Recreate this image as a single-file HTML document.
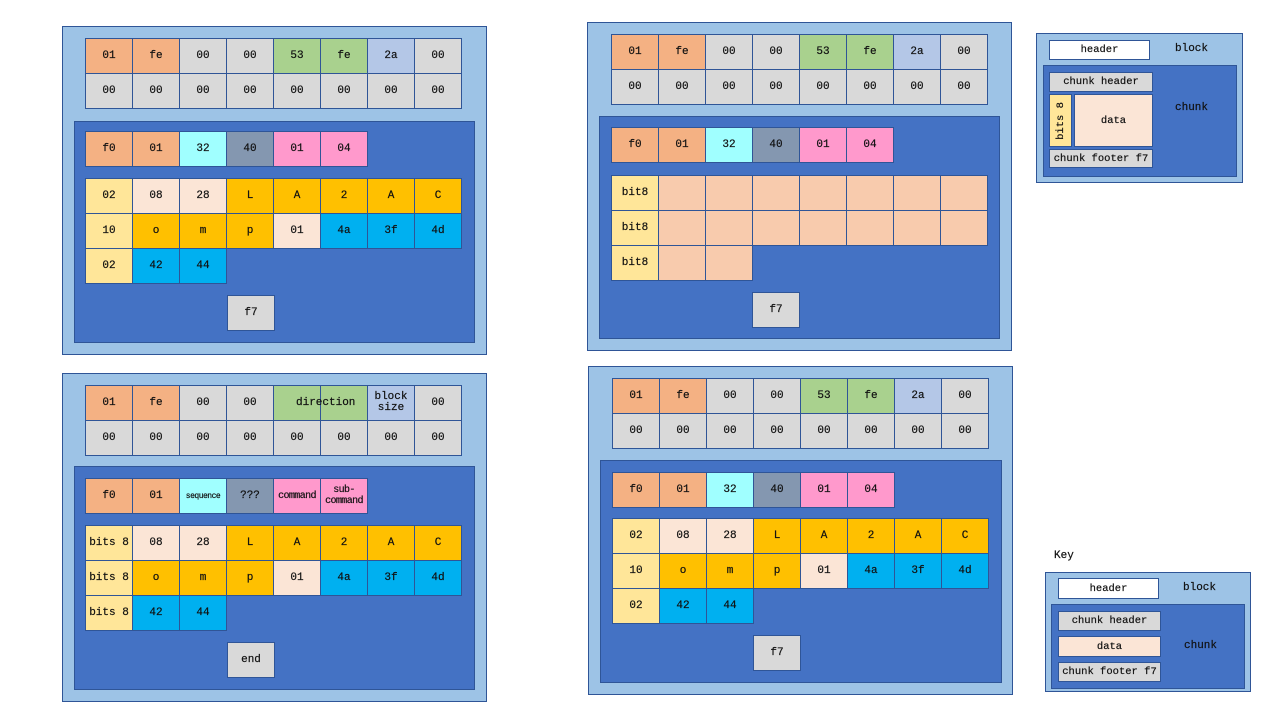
<!DOCTYPE html>
<html><head><meta charset="utf-8"><style>
body{margin:0;width:1280px;height:720px;background:#fff;position:relative;overflow:hidden;font-family:"Liberation Mono","DejaVu Sans Mono",monospace;font-size:11px;color:#111;-webkit-text-stroke:0.2px #111}
.a{position:absolute;box-sizing:border-box}
.o{background:#9dc3e6;border:1px solid #2f5597}
.i{background:#4472c4;border:1px solid #2f5597}
.r{position:absolute;display:flex}
.r div{width:48px;height:36px;box-sizing:border-box;border:1px solid #2f5597;margin-left:-1px;display:flex;align-items:center;justify-content:center;text-align:center;line-height:11px}
.r div:first-child{margin-left:0}
.O{background:#f4b183}.G{background:#d9d9d9}.N{background:#a9d18e}.L{background:#b4c7e7}
.C{background:#a0ffff}.S{background:#8497b0}.P{background:#ff99cc}.Y{background:#ffe699}
.E{background:#fbe5d6}.Q{background:#ffc000}.B{background:#00b0f0}.K{background:#f8cbad}
.k{position:absolute;box-sizing:border-box;border:1px solid #2f5597;display:flex;align-items:center;justify-content:center;font-size:10.5px;white-space:nowrap}
.t{position:absolute}
</style></head><body>

<!-- Diagram 1 -->
<div class="a o" style="left:62px;top:26px;width:425px;height:329px"></div>
<div class="r" style="left:85px;top:38px"><div class="O">01</div><div class="O">fe</div><div class="G">00</div><div class="G">00</div><div class="N">53</div><div class="N">fe</div><div class="L">2a</div><div class="G">00</div></div>
<div class="r" style="left:85px;top:73px"><div class="G">00</div><div class="G">00</div><div class="G">00</div><div class="G">00</div><div class="G">00</div><div class="G">00</div><div class="G">00</div><div class="G">00</div></div>
<div class="a i" style="left:74px;top:121px;width:401px;height:222px"></div>
<div class="r" style="left:85px;top:131px"><div class="O">f0</div><div class="O">01</div><div class="C">32</div><div class="S">40</div><div class="P">01</div><div class="P">04</div></div>
<div class="r" style="left:85px;top:178px"><div class="Y">02</div><div class="E">08</div><div class="E">28</div><div class="Q">L</div><div class="Q">A</div><div class="Q">2</div><div class="Q">A</div><div class="Q">C</div></div>
<div class="r" style="left:85px;top:213px"><div class="Y">10</div><div class="Q">o</div><div class="Q">m</div><div class="Q">p</div><div class="E">01</div><div class="B">4a</div><div class="B">3f</div><div class="B">4d</div></div>
<div class="r" style="left:85px;top:248px"><div class="Y">02</div><div class="B">42</div><div class="B">44</div></div>
<div class="r" style="left:227px;top:295px"><div class="G">f7</div></div>

<!-- Diagram 2 -->
<div class="a o" style="left:587px;top:22px;width:425px;height:329px"></div>
<div class="r" style="left:611px;top:34px"><div class="O">01</div><div class="O">fe</div><div class="G">00</div><div class="G">00</div><div class="N">53</div><div class="N">fe</div><div class="L">2a</div><div class="G">00</div></div>
<div class="r" style="left:611px;top:69px"><div class="G">00</div><div class="G">00</div><div class="G">00</div><div class="G">00</div><div class="G">00</div><div class="G">00</div><div class="G">00</div><div class="G">00</div></div>
<div class="a i" style="left:599px;top:116px;width:401px;height:223px"></div>
<div class="r" style="left:611px;top:127px"><div class="O">f0</div><div class="O">01</div><div class="C">32</div><div class="S">40</div><div class="P">01</div><div class="P">04</div></div>
<div class="r" style="left:611px;top:175px"><div class="Y">bit8</div><div class="K"></div><div class="K"></div><div class="K"></div><div class="K"></div><div class="K"></div><div class="K"></div><div class="K"></div></div>
<div class="r" style="left:611px;top:210px"><div class="Y">bit8</div><div class="K"></div><div class="K"></div><div class="K"></div><div class="K"></div><div class="K"></div><div class="K"></div><div class="K"></div></div>
<div class="r" style="left:611px;top:245px"><div class="Y">bit8</div><div class="K"></div><div class="K"></div></div>
<div class="r" style="left:752px;top:292px"><div class="G">f7</div></div>

<!-- Diagram 3 -->
<div class="a o" style="left:62px;top:373px;width:425px;height:329px"></div>
<div class="r" style="left:85px;top:385px"><div class="O">01</div><div class="O">fe</div><div class="G">00</div><div class="G">00</div><div class="N"></div><div class="N"></div><div class="L">block<br>size</div><div class="G">00</div></div>
<div class="t" style="left:296px;top:397px">direction</div>
<div class="r" style="left:85px;top:420px"><div class="G">00</div><div class="G">00</div><div class="G">00</div><div class="G">00</div><div class="G">00</div><div class="G">00</div><div class="G">00</div><div class="G">00</div></div>
<div class="a i" style="left:74px;top:466px;width:401px;height:224px"></div>
<div class="r" style="left:85px;top:478px"><div class="O">f0</div><div class="O">01</div><div class="C" style="font-size:8px;letter-spacing:-0.5px">sequence</div><div class="S">???</div><div class="P" style="font-size:10px;letter-spacing:-0.6px">command</div><div class="P" style="font-size:10px;letter-spacing:-0.6px">sub-<br>command</div></div>
<div class="r" style="left:85px;top:525px"><div class="Y">bits 8</div><div class="E">08</div><div class="E">28</div><div class="Q">L</div><div class="Q">A</div><div class="Q">2</div><div class="Q">A</div><div class="Q">C</div></div>
<div class="r" style="left:85px;top:560px"><div class="Y">bits 8</div><div class="Q">o</div><div class="Q">m</div><div class="Q">p</div><div class="E">01</div><div class="B">4a</div><div class="B">3f</div><div class="B">4d</div></div>
<div class="r" style="left:85px;top:595px"><div class="Y">bits 8</div><div class="B">42</div><div class="B">44</div></div>
<div class="r" style="left:227px;top:642px"><div class="G">end</div></div>

<!-- Diagram 4 -->
<div class="a o" style="left:588px;top:366px;width:425px;height:329px"></div>
<div class="r" style="left:612px;top:378px"><div class="O">01</div><div class="O">fe</div><div class="G">00</div><div class="G">00</div><div class="N">53</div><div class="N">fe</div><div class="L">2a</div><div class="G">00</div></div>
<div class="r" style="left:612px;top:413px"><div class="G">00</div><div class="G">00</div><div class="G">00</div><div class="G">00</div><div class="G">00</div><div class="G">00</div><div class="G">00</div><div class="G">00</div></div>
<div class="a i" style="left:600px;top:460px;width:402px;height:223px"></div>
<div class="r" style="left:612px;top:472px"><div class="O">f0</div><div class="O">01</div><div class="C">32</div><div class="S">40</div><div class="P">01</div><div class="P">04</div></div>
<div class="r" style="left:612px;top:518px"><div class="Y">02</div><div class="E">08</div><div class="E">28</div><div class="Q">L</div><div class="Q">A</div><div class="Q">2</div><div class="Q">A</div><div class="Q">C</div></div>
<div class="r" style="left:612px;top:553px"><div class="Y">10</div><div class="Q">o</div><div class="Q">m</div><div class="Q">p</div><div class="E">01</div><div class="B">4a</div><div class="B">3f</div><div class="B">4d</div></div>
<div class="r" style="left:612px;top:588px"><div class="Y">02</div><div class="B">42</div><div class="B">44</div></div>
<div class="r" style="left:753px;top:635px"><div class="G">f7</div></div>

<!-- Key 1 -->
<div class="a o" style="left:1036px;top:33px;width:207px;height:150px"></div>
<div class="k" style="left:1049px;top:40px;width:101px;height:20px;background:#fff">header</div>
<div class="t" style="left:1175px;top:43px">block</div>
<div class="a i" style="left:1043px;top:65px;width:194px;height:112px"></div>
<div class="k G" style="left:1049px;top:72px;width:104px;height:20px">chunk header</div>
<div class="k Y" style="left:1049px;top:94px;width:23px;height:53px"><span style="transform:rotate(-90deg);white-space:nowrap">bits 8</span></div>
<div class="k E" style="left:1074px;top:94px;width:79px;height:53px">data</div>
<div class="k G" style="left:1049px;top:149px;width:104px;height:19px">chunk footer f7</div>
<div class="t" style="left:1175px;top:102px">chunk</div>

<!-- Key 2 -->
<div class="t" style="left:1054px;top:550px">Key</div>
<div class="a o" style="left:1045px;top:572px;width:206px;height:120px"></div>
<div class="k" style="left:1058px;top:578px;width:101px;height:21px;background:#fff">header</div>
<div class="t" style="left:1183px;top:582px">block</div>
<div class="a i" style="left:1051px;top:604px;width:194px;height:85px"></div>
<div class="k G" style="left:1058px;top:611px;width:103px;height:20px">chunk header</div>
<div class="k E" style="left:1058px;top:636px;width:103px;height:21px">data</div>
<div class="k G" style="left:1058px;top:662px;width:103px;height:20px">chunk footer f7</div>
<div class="t" style="left:1184px;top:640px">chunk</div>

</body></html>
